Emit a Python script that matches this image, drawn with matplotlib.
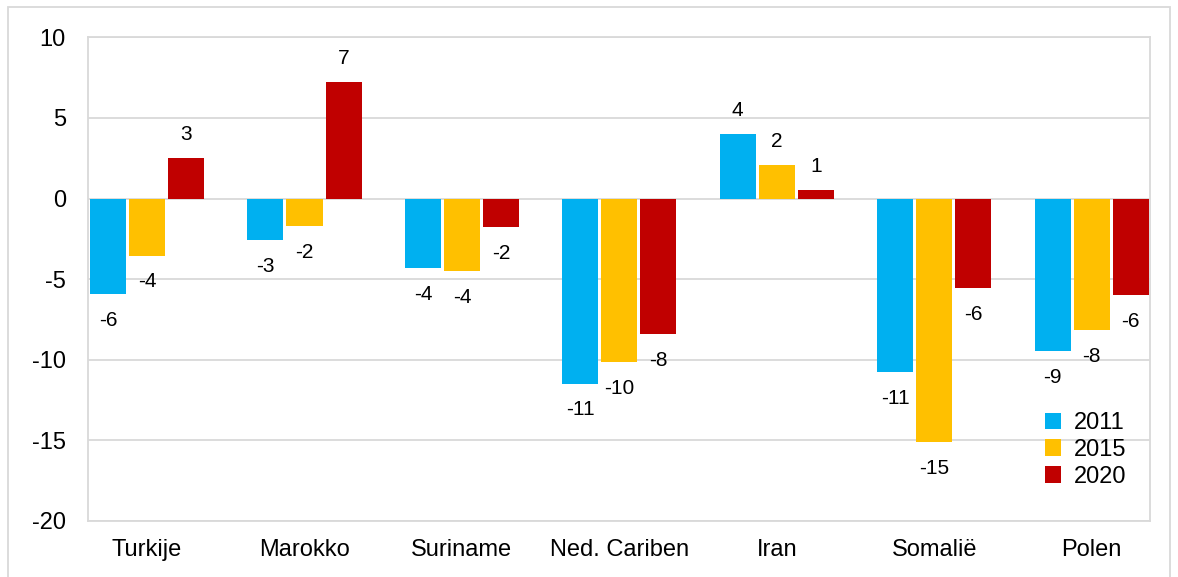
import matplotlib.pyplot as plt
import matplotlib.patches as patches
import numpy as np

plt.rcParams['font.family'] = ['Liberation Sans', 'DejaVu Sans']
plt.rcParams['axes.unicode_minus'] = False

landen = ['Turkije', 'Marokko', 'Suriname', 'Ned. Cariben', 'Iran', 'Somalië', 'Polen']
jaren = ['2011', '2015', '2020']
v2011 = [-5.91, -2.57, -4.30, -11.48, 4.02, -10.76, -9.46]
v2015 = [-3.54, -1.73, -4.48, -10.14, 2.08, -15.09, -8.18]
v2020 = [2.52, 7.24, -1.79, -8.41, 0.52, -5.57, -6.00]
kleuren = ['#00B0F0', '#FFC000', '#C00000']

fig = plt.figure(figsize=(11.78, 5.77), dpi=100)
ax = fig.add_axes([0.0747, 0.0971, 0.9015, 0.8383])

x = np.arange(len(landen))
breedte = 0.229
stap = 0.248
for i, (serie, kleur, jaar) in enumerate(zip([v2011, v2015, v2020], kleuren, jaren)):
    pos = x + (i - 1) * stap
    ax.bar(pos, serie, width=breedte, color=kleur, label=jaar, zorder=3)
    for px, val in zip(pos, serie):
        off = 17 if val >= 0 else -19
        ax.annotate(str(int(round(val))), (px, val), xytext=(0, off), textcoords='offset points',
                    ha='center', va='center', fontsize=15, color='black')

ax.set_ylim(-20, 10)
ax.set_yticks(range(-20, 11, 5))
ax.set_xlim(-0.375, 6.37)
ax.set_xticks(x)
ax.set_xticklabels(landen, fontsize=17)
ax.tick_params(axis='y', labelsize=17, length=0, pad=16)
ax.tick_params(axis='x', length=0, pad=13)
ax.grid(axis='y', color='#d9d9d9', linewidth=1.3, zorder=0)
for s in ax.spines.values():
    s.set_color('#d9d9d9')
    s.set_linewidth(1.3)

ax.legend(loc='lower right', bbox_to_anchor=(0.998, 0.025), frameon=False, fontsize=17,
          handlelength=0.7, handleheight=0.7, handletextpad=0.55, labelspacing=0.2)

rand = patches.Rectangle((8 / 1178, -0.01), 1162 / 1178, 1 - 7 / 577 + 0.01, transform=fig.transFigure,
                         fill=False, edgecolor='#d9d9d9', linewidth=1.3, clip_on=False)
fig.patches.append(rand)

fig.savefig('out.png', dpi=100)
